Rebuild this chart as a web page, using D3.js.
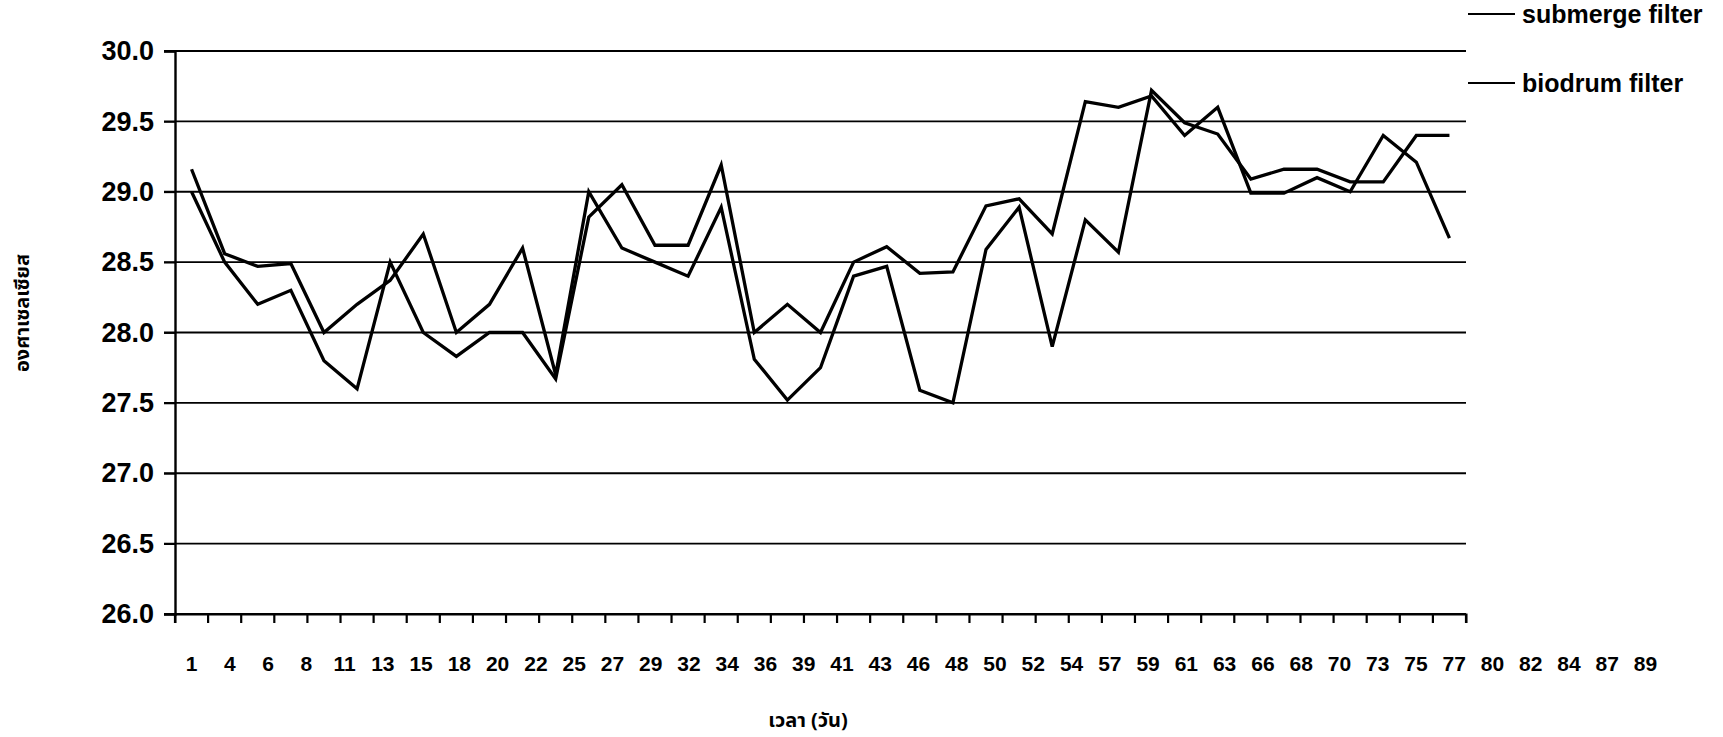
<!DOCTYPE html>
<html>
<head>
<meta charset="utf-8">
<script src="https://cdn.jsdelivr.net/npm/d3@7"></script>
<style>
  body { margin: 0; background: #fff; }
  #chart { width: 1723px; height: 737px; }
  text { font-family: "Liberation Sans", Arial, sans-serif; font-weight: bold; fill: #000; }
  .thai { font-family: "Noto Sans Thai", "Noto Sans", "DejaVu Sans", sans-serif; }
</style>
</head>
<body>
<div id="chart"></div>
<script>
// day labels on the x axis
var days = [1, 4, 6, 8, 11, 13, 15, 18, 20, 22, 25, 27, 29, 32, 34, 36, 39, 41, 43, 46,
            48, 50, 52, 54, 57, 59, 61, 63, 66, 68, 70, 73, 75, 77, 80, 82, 84, 87, 89];

var submerge = [29.16, 28.56, 28.47, 28.49, 28.0, 28.2, 28.37, 28.7, 28.0, 28.2,
                28.6, 27.7, 29.0, 28.6, 28.5, 28.4, 28.89, 27.81, 27.52, 27.75,
                28.4, 28.47, 27.59, 27.5, 28.59, 28.89, 27.9, 28.8, 28.57, 29.72,
                29.49, 29.41, 29.09, 29.16, 29.16, 29.07, 29.07, 29.4, 29.4];

var biodrum = [29.0, 28.5, 28.2, 28.3, 27.8, 27.6, 28.5, 28.0, 27.83, 28.0,
               28.0, 27.67, 28.82, 29.05, 28.62, 28.62, 29.19, 28.0, 28.2, 28.0,
               28.5, 28.61, 28.42, 28.43, 28.9, 28.95, 28.7, 29.64, 29.6, 29.68,
               29.4, 29.6, 28.99, 28.99, 29.1, 29.0, 29.4, 29.21, 28.67];

var yTicks = [26.0, 26.5, 27.0, 27.5, 28.0, 28.5, 29.0, 29.5, 30.0];
var seriesNames = ["submerge filter", "biodrum filter"];

var chartDiv = document.getElementById("chart");
var width = 1723, height = 737;
var svg = d3.select(chartDiv).append("svg")
    .attr("width", width)
    .attr("height", height);

var plotLeft = 175, plotRight = 1466, plotTop = 51, plotBottom = 614;

var x = d3.scaleBand().domain(days).range([plotLeft, plotRight]).padding(0);
// the printed day labels run wider than the plot itself
var xLabel = d3.scalePoint().domain(days).range([191, 1645]);
var y = d3.scaleLinear().domain([26, 30]).range([plotBottom, plotTop]);

// gridlines
svg.append("g")
    .selectAll("line")
    .data(yTicks)
    .enter().append("line")
      .attr("x1", plotLeft - 11)
      .attr("x2", plotRight)
      .attr("y1", function(d) { return y(d); })
      .attr("y2", function(d) { return y(d); })
      .attr("stroke", "#000")
      .attr("stroke-width", 1.8);

// y axis
var yAxis = svg.append("g")
    .attr("transform", "translate(" + plotLeft + ",0)")
    .call(d3.axisLeft(y).tickValues(yTicks).tickSize(11).tickPadding(10)
      .tickFormat(d3.format(".1f")));
yAxis.select(".domain").attr("stroke-width", 2.4);
yAxis.selectAll(".tick line").attr("stroke-width", 1.8);
yAxis.selectAll("text").style("font-size", "27px");

// x axis ticks between categories
var xAxis = svg.append("g")
    .attr("transform", "translate(0," + plotBottom + ")")
    .call(d3.axisBottom(x).tickSize(9).tickFormat(""));
xAxis.select(".domain").attr("stroke-width", 2);
xAxis.selectAll(".tick").attr("transform", function(d) {
    return "translate(" + x(d) + ",0)";
});
xAxis.selectAll(".tick line").attr("stroke-width", 2.2);
xAxis.append("line")
    .attr("x1", plotRight).attr("x2", plotRight)
    .attr("y1", 0).attr("y2", 9)
    .attr("stroke", "#000").attr("stroke-width", 2.2);

var labelAxis = svg.append("g")
    .attr("transform", "translate(0,656)")
    .call(d3.axisBottom(xLabel).tickSize(0).tickPadding(0));
labelAxis.select(".domain").remove();
labelAxis.selectAll("text").style("font-size", "21px");

// lines
var line = d3.line()
    .x(function(d, i) { return x(days[i]) + x.bandwidth() / 2; })
    .y(function(d) { return y(d); });

[submerge, biodrum].forEach(function(s) {
  svg.append("path")
      .datum(s)
      .attr("fill", "none")
      .attr("stroke", "#000")
      .attr("stroke-width", 3.3)
      .attr("stroke-linejoin", "miter")
      .attr("d", line);
});

// legend
var legend = svg.append("g").selectAll("g")
    .data(seriesNames)
    .enter().append("g")
      .attr("transform", function(d, i) { return "translate(1468," + (14 + i * 69) + ")"; });
legend.append("line")
    .attr("x1", 0).attr("x2", 47)
    .attr("stroke", "#000").attr("stroke-width", 2.2);
legend.append("text")
    .attr("x", 54)
    .attr("dy", "0.35em")
    .style("font-size", "25px")
    .text(function(d) { return d; });

// axis titles
svg.append("text")
    .attr("class", "thai")
    .attr("transform", "translate(22,313) rotate(-90)")
    .attr("text-anchor", "middle")
    .attr("dy", "0.35em")
    .style("font-size", "20px")
    .text("องศาเซลเซียส");

svg.append("text")
    .attr("class", "thai")
    .attr("x", 808)
    .attr("y", 720)
    .attr("text-anchor", "middle")
    .attr("dy", "0.35em")
    .style("font-size", "20px")
    .text("เวลา (วัน)");
</script>
</body>
</html>
